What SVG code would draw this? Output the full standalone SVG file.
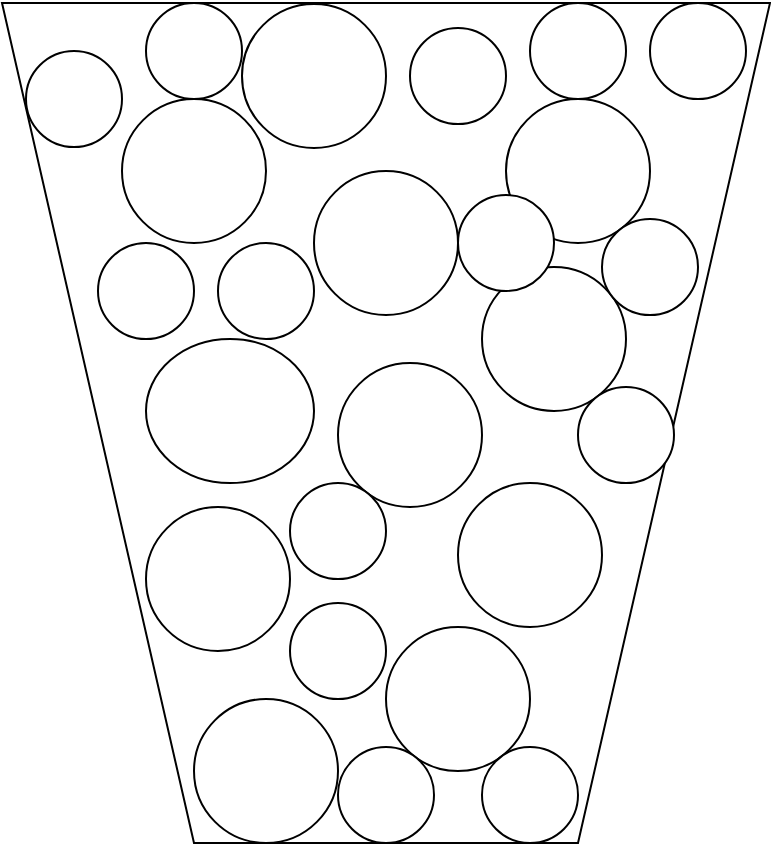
<svg xmlns="http://www.w3.org/2000/svg" width="771" height="845" viewBox="0 0 771 845">
<style>
.s{fill:#fff;stroke:#000;stroke-width:2}
</style>
<rect width="771" height="845" fill="#fff"/>
<polygon class="s" points="2,3 770,3 578,843 194,843"/>
<g id="circles" transform="translate(0,1)">
<circle class="s" cx="74" cy="98" r="48"/>
<circle class="s" cx="194" cy="50" r="48"/>
<circle class="s" cx="314" cy="75" r="72"/>
<circle class="s" cx="458" cy="75" r="48"/>
<circle class="s" cx="578" cy="50" r="48"/>
<circle class="s" cx="698" cy="50" r="48"/>
<circle class="s" cx="194" cy="170" r="72"/>
<circle class="s" cx="578" cy="170" r="72"/>
<circle class="s" cx="386" cy="242" r="72"/>
<circle class="s" cx="554" cy="338" r="72"/>
<circle class="s" cx="506" cy="242" r="48"/>
<circle class="s" cx="650" cy="266" r="48"/>
<circle class="s" cx="146" cy="290" r="48"/>
<circle class="s" cx="266" cy="290" r="48"/>
<ellipse class="s" cx="230" cy="410" rx="84" ry="72"/>
<circle class="s" cx="410" cy="434" r="72"/>
<circle class="s" cx="626" cy="434" r="48"/>
<circle class="s" cx="338" cy="530" r="48"/>
<circle class="s" cx="530" cy="554" r="72"/>
<circle class="s" cx="218" cy="578" r="72"/>
<circle class="s" cx="338" cy="650" r="48"/>
<circle class="s" cx="458" cy="698" r="72"/>
<circle class="s" cx="266" cy="770" r="72"/>
<circle class="s" cx="386" cy="794" r="48"/>
<circle class="s" cx="530" cy="794" r="48"/>
</g>
</svg>
